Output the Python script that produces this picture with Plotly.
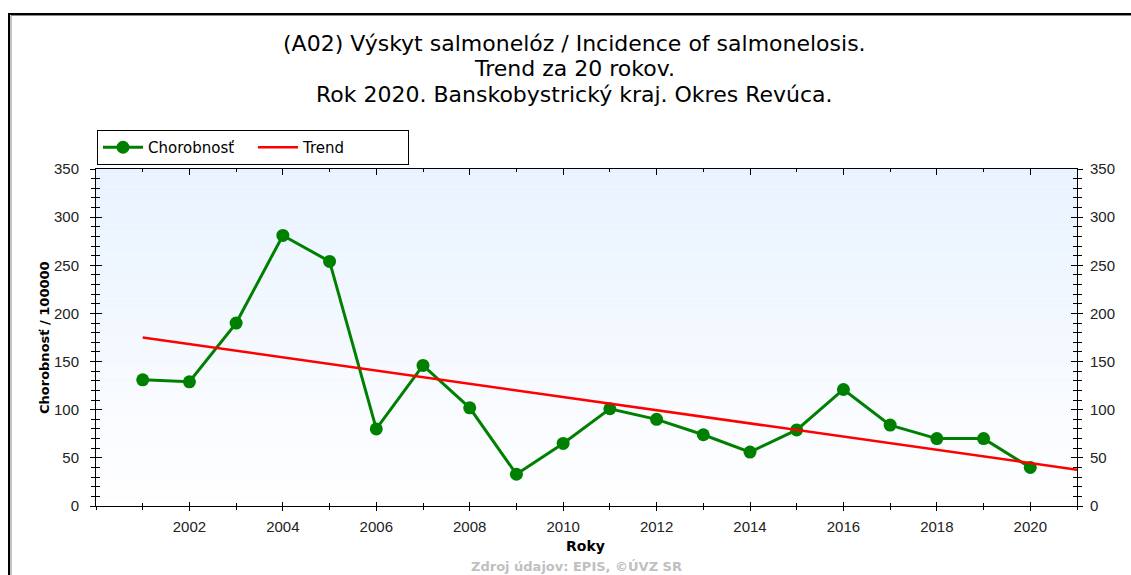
import numpy as np
import plotly.graph_objects as go

# Incidence per 100 000 inhabitants, 2001-2020
years = list(range(2001, 2021))
incidence = [131, 129, 190, 281, 254, 80, 146, 102, 33, 65,
             101, 90, 74, 56, 79, 121, 84, 70, 70, 40]

x_labels = list(range(2002, 2021, 2))
y_range = [0, 350]
x_range = [2000, 2021]

title_lines = [
    "(A02) Výskyt salmonelóz / Incidence of salmonelosis.",
    "Trend za 20 rokov.",
    "Rok 2020. Banskobystrický kraj. Okres Revúca.",
]

# Linear trend fitted to the yearly values, drawn out to the right edge
slope, intercept = np.polyfit(years, incidence, 1)
trend_x = [years[0], x_range[1]]
trend_y = [slope * v + intercept for v in trend_x]

W, H = 1131, 575
L, R, T, B = 96, 1077, 169, 506
pw, ph = R - L, B - T


def px_x(p):
    return (p - L) / pw


def px_y(p):
    return (B - p) / ph


FONT = "DejaVu Sans, Verdana, sans-serif"
TICK_FONT = "Liberation Sans, Arial, sans-serif"

fig = go.Figure()
fig.add_trace(go.Scatter(
    x=years, y=incidence, name="Chorobnosť", mode="lines+markers",
    line=dict(color="#008000", width=3),
    marker=dict(color="#008000", size=13, symbol="circle"),
))
fig.add_trace(go.Scatter(
    x=trend_x, y=trend_y, name="Trend", mode="lines",
    line=dict(color="#ff0000", width=2.5),
))

# Transparent copies of the series that attach the extra tick axes
for xa, ya in [("x2", "y2"), ("x3", "y3"), ("x", "y4")]:
    fig.add_trace(go.Scatter(
        x=years, y=incidence, xaxis=xa, yaxis=ya, mode="markers",
        marker=dict(opacity=0), showlegend=False, hoverinfo="skip",
    ))

# Soft vertical gradient behind the plot area: light blue at top, white at bottom
n_bands = 60
top_rgb = np.array([233, 243, 255])
bot_rgb = np.array([255, 255, 255])
shapes = []
for i in range(n_bands):
    f = i / (n_bands - 1)
    c = top_rgb * (1 - f) + bot_rgb * f
    shapes.append(dict(
        type="rect", xref="x domain", yref="y domain",
        x0=0, x1=1, y0=1 - (i + 1) / n_bands, y1=1 - i / n_bands,
        fillcolor=f"rgb({int(c[0])},{int(c[1])},{int(c[2])})",
        line=dict(width=0), layer="below",
    ))

# Outer frame with a grey inner shadow
shapes.append(dict(type="rect", xref="paper", yref="paper",
                   x0=px_x(9), x1=px_x(1200), y0=px_y(700), y1=px_y(14),
                   line=dict(color="#000000", width=2), fillcolor="rgba(0,0,0,0)",
                   layer="below"))
shapes.append(dict(type="line", xref="paper", yref="paper",
                   x0=px_x(11), x1=px_x(1200), y0=px_y(15.5), y1=px_y(15.5),
                   line=dict(color="#8a8a8a", width=1), layer="below"))
shapes.append(dict(type="line", xref="paper", yref="paper",
                   x0=px_x(11), x1=px_x(11), y0=px_y(15.5), y1=px_y(700),
                   line=dict(color="#8a8a8a", width=1), layer="below"))

annotations = []
for line_text, py in zip(title_lines, [44, 69, 95]):
    annotations.append(dict(
        text=line_text, xref="paper", yref="paper",
        x=px_x(574), y=px_y(py), xanchor="center", yanchor="middle",
        showarrow=False, font=dict(family=FONT, size=22, color="#000000"),
    ))
annotations.append(dict(
    text="<b>Roky</b>", xref="paper", yref="paper",
    x=px_x(585), y=px_y(546), xanchor="center", yanchor="middle",
    showarrow=False, font=dict(family=FONT, size=14, color="#000000"),
))
annotations.append(dict(
    text="<b>Chorobnosť / 100000</b>", xref="paper", yref="paper",
    x=px_x(44), y=px_y(338), xanchor="center", yanchor="middle",
    textangle=-90, showarrow=False,
    font=dict(family=FONT, size=13, color="#000000"),
))
annotations.append(dict(
    text="<b>Zdroj údajov: EPIS, ©ÚVZ SR</b>", xref="paper", yref="paper",
    x=px_x(576), y=px_y(566), xanchor="center", yanchor="middle",
    showarrow=False, font=dict(family=FONT, size=13, color="#c0c0c0"),
))

tick_font = dict(family=TICK_FONT, size=15, color="#222222")
minor_x = dict(tickmode="linear", tick0=2000, dtick=1, ticklen=3,
               tickcolor="#000000", tickwidth=1)
minor_y = dict(tickmode="linear", tick0=0, dtick=10, ticklen=4,
               tickcolor="#000000", tickwidth=1)

common_x = dict(range=x_range, showgrid=False, zeroline=False,
                showline=True, linecolor="#000000", linewidth=1,
                tickmode="array", tickvals=x_labels,
                tickcolor="#000000", tickwidth=1)
common_y = dict(range=y_range, showgrid=False, zeroline=False,
                showline=True, linecolor="#000000", linewidth=1,
                tickmode="linear", tick0=0, dtick=50,
                tickcolor="#000000", tickwidth=1)

fig.update_layout(
    width=W, height=H,
    margin=dict(l=L, r=W - R, t=T, b=H - B, pad=0),
    paper_bgcolor="#ffffff", plot_bgcolor="#ffffff",
    showlegend=True,
    legend=dict(
        orientation="h", x=px_x(97), y=px_y(130), xanchor="left", yanchor="top",
        bgcolor="#ffffff", bordercolor="#000000", borderwidth=1,
        font=dict(family=FONT, size=15, color="#000000"),
        itemwidth=40, entrywidth=100, tracegroupgap=0,
    ),
    # bottom axis: labels with outward ticks
    xaxis=dict(**common_x, side="bottom", ticks="outside", ticklen=4,
               tickfont=tick_font, ticklabelstandoff=3,
               minor=dict(**minor_x, ticks="outside")),
    # inward halves of the bottom ticks
    xaxis2=dict(**common_x, overlaying="x", side="bottom", anchor="y",
                ticks="inside", ticklen=4, showticklabels=False,
                minor=dict(**minor_x, ticks="inside")),
    # top edge
    xaxis3=dict(**common_x, overlaying="x", side="top", anchor="y",
                ticks="inside", ticklen=6, showticklabels=False,
                minor=dict(**minor_x, ticks="inside")),
    yaxis=dict(**common_y, side="left", ticks="outside", ticklen=5,
               tickfont=tick_font, ticklabelstandoff=8,
               minor=dict(**minor_y, ticks="outside")),
    yaxis2=dict(**common_y, overlaying="y", side="left", anchor="x",
                ticks="inside", ticklen=6, showticklabels=False,
                minor=dict(**minor_y, ticks="inside")),
    yaxis3=dict(**common_y, overlaying="y", side="right", anchor="x",
                ticks="outside", ticklen=5, tickfont=tick_font,
                ticklabelstandoff=4,
                minor=dict(**minor_y, ticks="outside")),
    yaxis4=dict(**common_y, overlaying="y", side="right", anchor="x",
                ticks="inside", ticklen=6, showticklabels=False,
                minor=dict(**minor_y, ticks="inside")),
    shapes=shapes,
    annotations=annotations,
)

fig.write_html("out.html")
